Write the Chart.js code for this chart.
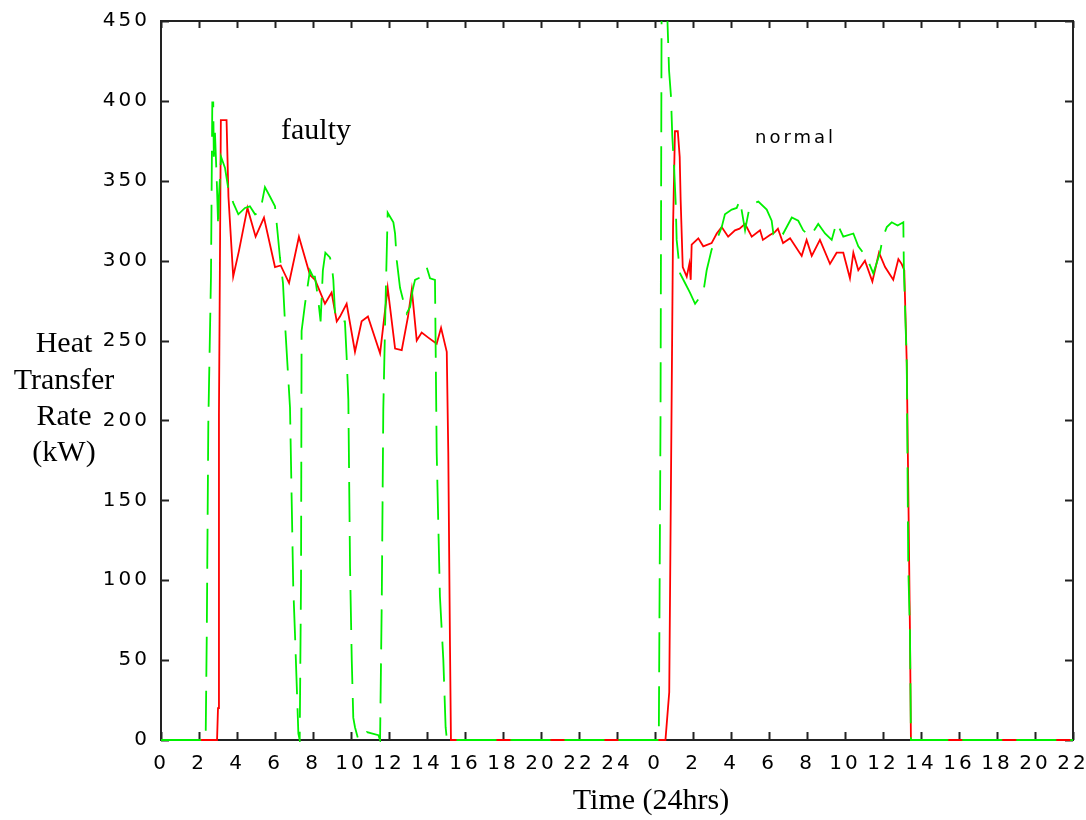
<!DOCTYPE html>
<html>
<head>
<meta charset="utf-8">
<script src="https://cdn.jsdelivr.net/npm/chart.js@4.4.1/dist/chart.umd.min.js"></script>
<style>
  html, body { margin: 0; padding: 0; background: #fff; }
  #wrap { width: 1086px; height: 820px; }
</style>
</head>
<body>
<div id="wrap"><canvas id="heatChart" width="1086" height="820"></canvas></div>
<script>
// hours on a continuous 0-48 axis (second day starts at hour 26 = label "0")
const tickLabels = ["0", "2", "4", "6", "8", "10", "12", "14", "16", "18", "20", "22", "24",
                    "0", "2", "4", "6", "8", "10", "12", "14", "16", "18", "20", "22"];

// red solid line
const redHours = [0, 2.95, 3.0, 3.05, 3.15, 3.45, 3.55, 3.8, 4.1, 4.55,
                  4.98, 5.42, 6.0, 6.3, 6.74, 7.26, 7.84, 8.11, 8.63, 8.98,
                  9.25, 9.42, 9.77, 10.21, 10.56, 10.89, 11.53, 11.93, 12.32, 12.67,
                  13.0, 13.2, 13.46, 13.72, 14.05, 14.51, 14.74, 15.04, 15.12, 15.21,
                  15.26, 26.55, 26.75, 26.95, 27.05, 27.2, 27.3, 27.35, 27.46, 27.67,
                  27.81, 27.88, 27.93, 28.28, 28.54, 28.98, 29.25, 29.51, 29.85, 30.21,
                  30.45, 30.74, 31.09, 31.53, 31.68, 32.05, 32.32, 32.47, 32.74, 33.11,
                  33.72, 33.98, 34.25, 34.68, 35.21, 35.56, 35.91, 36.26, 36.44, 36.7,
                  37.05, 37.44, 37.79, 38.11, 38.54, 38.81, 38.98, 39.12, 39.25, 39.33,
                  39.42, 39.47, 48];
const redKW = [0, 0, 20, 204, 388, 388, 340, 290, 306, 333,
               315, 327, 296, 297, 286, 315, 291, 288, 273, 280,
               262, 265, 273, 243, 262, 265, 242, 283, 245, 244,
               265, 282, 250, 255, 252, 248, 258, 243, 180, 59,
               0, 0, 30, 321, 381, 381, 365, 338, 296, 290,
               298, 288, 310, 314, 309, 311, 317, 321, 315, 319,
               320, 323, 315, 319, 313, 316, 318, 320, 311, 314,
               303, 313, 303, 313, 298, 305, 305, 289, 305, 294,
               300, 287, 305, 296, 288, 301, 298, 294, 236, 158,
               67, 0, 0];

// green dashed line
const greenHours = [0, 2.35, 2.41, 2.49, 2.63, 2.7, 2.75, 2.78, 2.84, 2.93,
                    3.01, 3.05, 3.16, 3.37, 3.53, 3.81, 4.07, 4.42, 4.68, 4.95,
                    5.21, 5.47, 5.74, 6.0, 6.14, 6.26, 6.42, 6.53, 6.79, 6.96,
                    7.05, 7.23, 7.3, 7.37, 7.4, 7.58, 7.84, 8.0, 8.1, 8.26,
                    8.4, 8.52, 8.65, 8.89, 8.98, 9.07, 9.16, 9.33, 9.68, 9.77,
                    9.86, 9.95, 10.04, 10.12, 10.21, 10.39, 10.83, 11.44, 11.53, 11.62,
                    11.7, 11.83, 11.93, 12.23, 12.32, 12.41, 12.58, 12.75, 12.93, 13.11,
                    13.25, 13.37, 13.72, 13.98, 14.16, 14.42, 14.51, 14.68, 14.86, 14.98,
                    15.05, 26.2, 26.29, 26.35, 26.6, 26.7, 26.74, 26.84, 26.91, 27.01,
                    27.09, 27.14, 27.32, 27.58, 27.84, 28.11, 28.54, 28.72, 28.98, 29.25,
                    29.51, 29.68, 30.04, 30.3, 30.47, 30.74, 31.0, 31.44, 31.88, 32.14,
                    32.23, 32.49, 32.75, 33.2, 33.54, 33.8, 34.16, 34.59, 34.95, 35.3,
                    35.56, 35.91, 36.44, 36.7, 37.14, 37.49, 37.84, 38.0, 38.2, 38.46,
                    38.77, 39.07, 39.1, 39.25, 39.33, 39.42, 39.47, 48];
const greenKW = [0, 0, 67, 198, 290, 399, 399, 365, 380, 352,
                 321, 340, 365, 358, 346, 336, 329, 333, 334, 329,
                 330, 346, 340, 334, 317, 302, 286, 260, 208, 96,
                 67, 4, 0, 100, 256, 273, 294, 290, 290, 277,
                 262, 294, 305, 302, 298, 288, 267, 262, 262, 240,
                 213, 108, 50, 14, 8, 0, 5, 3, 0, 88,
                 207, 280, 330, 324, 317, 300, 283, 275, 267, 271,
                 282, 288, 290, 296, 289, 288, 180, 90, 50, 8,
                 0, 0, 200, 470, 470, 434, 419, 403, 378, 357,
                 336, 313, 292, 286, 280, 273, 280, 294, 307, 313,
                 321, 329, 332, 333, 338, 319, 335, 337, 332, 325,
                 317, 321, 317, 327, 325, 319, 315, 323, 317, 313,
                 324, 315, 317, 309, 302, 292, 305, 315, 321, 324,
                 322, 324, 294, 236, 108, 67, 0, 0];

const yTitleLines = ["Heat", "Transfer", "Rate", "(kW)"];
const xTitle = "Time (24hrs)";
const notes = ["faulty", "normal"];

const tickFont = { family: "'DejaVu Sans', sans-serif", size: 20 };
const serif = "30px 'Liberation Serif', 'Times New Roman', serif";
const spacing = "3px";

const frame = {
    id: "frame",
    beforeLayout(chart) { chart.ctx.letterSpacing = spacing; },
    beforeDraw(chart) { chart.ctx.letterSpacing = spacing; },
    beforeDatasetsDraw(chart) {
        const { ctx, chartArea: a, scales: { x, y } } = chart;
        ctx.save();
        ctx.strokeStyle = "#222";
        ctx.lineWidth = 2;
        ctx.strokeRect(a.left, a.top, a.right - a.left, a.bottom - a.top);
        ctx.beginPath();
        x.ticks.forEach(t => {
            const px = Math.round(x.getPixelForValue(t.value)) + 0.5;
            ctx.moveTo(px, a.bottom); ctx.lineTo(px, a.bottom - 8);
            ctx.moveTo(px, a.top); ctx.lineTo(px, a.top + 7);
        });
        y.ticks.forEach(t => {
            const py = Math.round(y.getPixelForValue(t.value)) + 0.5;
            ctx.moveTo(a.left, py); ctx.lineTo(a.left + 8, py);
            ctx.moveTo(a.right, py); ctx.lineTo(a.right - 8, py);
        });
        ctx.stroke();
        ctx.restore();
    },
    afterDraw(chart) {
        const ctx = chart.ctx;
        ctx.save();
        ctx.fillStyle = "#000";
        ctx.letterSpacing = "0px";
        ctx.font = serif;
        ctx.textAlign = "center";
        ctx.textBaseline = "alphabetic";
        const base = [352, 389, 425, 461];
        yTitleLines.forEach((t, i) => ctx.fillText(t, 64, base[i]));
        ctx.fillText(xTitle, 651, 809);
        ctx.fillText(notes[0], 316, 139);
        ctx.letterSpacing = "3px";
        ctx.font = "18px 'DejaVu Sans', sans-serif";
        ctx.textAlign = "left";
        ctx.fillText(notes[1], 755, 143);
        ctx.restore();
    }
};

new Chart(document.getElementById("heatChart"), {
    type: "line",
    data: {
        datasets: [{
            label: "green",
            data: greenHours.map((h, i) => ({ x: h, y: greenKW[i] })),
            borderColor: "#00f000",
            borderWidth: 1.8,
            borderDash: [40, 14],
            pointRadius: 0,
            tension: 0,
            fill: false,
            clip: { left: 1, top: 0, right: 1, bottom: 2 },
            order: 0
        }, {
            label: "red",
            data: redHours.map((h, i) => ({ x: h, y: redKW[i] })),
            borderColor: "#ff0000",
            borderWidth: 1.8,
            pointRadius: 0,
            tension: 0,
            fill: false,
            clip: { left: 1, top: 0, right: 1, bottom: 2 },
            order: 1
        }]
    },
    options: {
        responsive: false,
        animation: false,
        devicePixelRatio: 1,
        layout: { padding: { left: 0, top: 21, right: 13, bottom: 0 } },
        plugins: { legend: { display: false }, tooltip: { enabled: false } },
        scales: {
            x: {
                type: "linear",
                min: 0,
                max: 48,
                grid: { display: false },
                border: { display: false },
                ticks: {
                    stepSize: 2,
                    autoSkip: false,
                    maxRotation: 0,
                    padding: 4,
                    color: "#000",
                    font: tickFont,
                    callback: v => tickLabels[Math.round(v / 2)]
                },
                afterFit: s => { s.height = 80; s.paddingLeft = 0; s.paddingRight = 0; }
            },
            y: {
                min: 0,
                max: 450,
                grid: { display: false },
                border: { display: false },
                ticks: {
                    stepSize: 50,
                    padding: 3,
                    color: "#000",
                    font: tickFont
                },
                afterFit: s => { s.width = 161; }
            }
        }
    },
    plugins: [frame]
});
</script>
</body>
</html>
